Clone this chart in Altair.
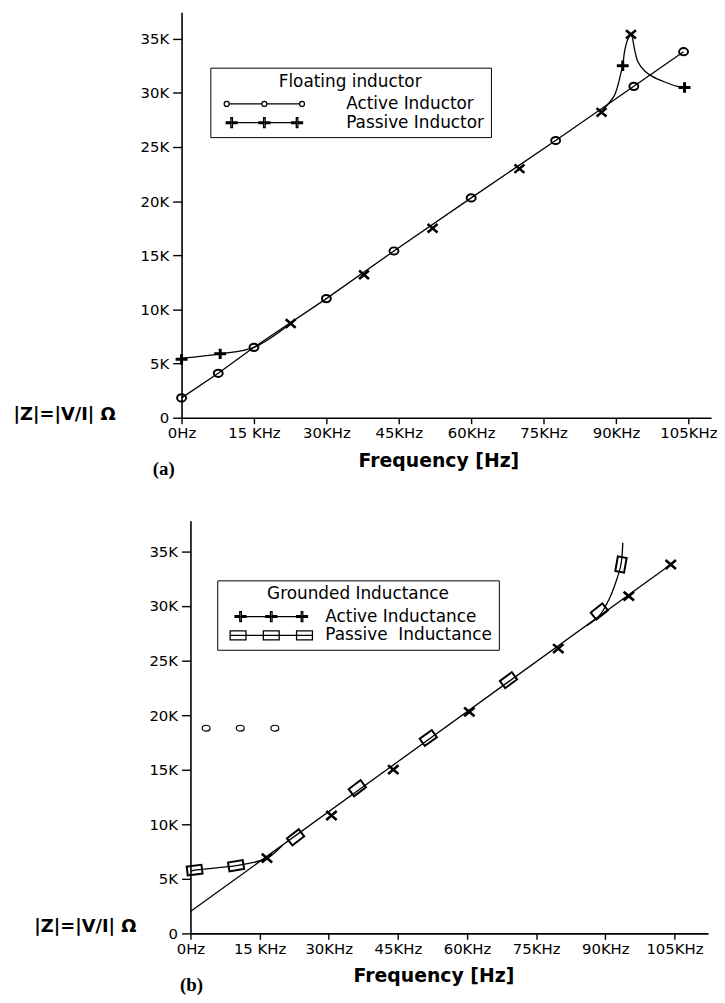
import math
import altair as alt
import pandas as pd

# ---------------- data (frequency in KHz, |Z| in ohm) ----------------
# (a) Floating inductor
a_active_f = [0, 7.6, 15, 30, 44, 60, 77.5, 93.7, 104]
a_active_z = [1830, 4100, 6500, 11000, 15400, 20300, 25600, 30600, 33800]
a_plus_f = [0, 8, 91.4, 104.2]
a_plus_z = [5400, 5900, 32500, 30500]
a_cross_f = [22.6, 37.8, 52, 70, 87, 93.1]
a_cross_z = [8700, 13200, 17500, 23000, 28200, 35400]
# passive curve where it leaves the straight line (low and high ends)
a_curve_lo_f = [0, 8, 15, 22.6]
a_curve_lo_z = [5500, 5900, 6500, 8700]
a_curve_hi_f = [87, 89.6, 90.4, 91.0, 91.4, 91.8, 92.5, 93.1, 93.9, 94.5,
                96.0, 97.6, 100.1, 102.7, 104.2]
a_curve_hi_z = [28300, 29700, 30700, 31800, 32500, 33900, 35000, 35400,
                33900, 32900, 32000, 31500, 31000, 30600, 30500]

# (b) Grounded inductance
b_line_f = [0, 104.2]
b_line_z = [2000, 33800]
b_cross_f = [16.6, 30.6, 44, 60.5, 79.8, 95.1, 104.2]
b_cross_z = [6900, 10800, 15000, 20300, 26100, 30900, 33800]
b_square_f = [0.9, 9.9, 22.8, 36.2, 51.6, 69, 88.7, 93.4]
b_square_z = [5800, 6200, 8800, 13300, 17900, 23200, 29500, 33800]
b_curve_f = [0, 0.9, 9.9, 16.6, 22.8, 36.2, 51.6, 69, 88.7, 90.8, 92.3, 93.4, 93.8]
b_curve_z = [5700, 5800, 6200, 6900, 8800, 13300, 17900, 23200, 29500, 30600,
             32200, 33800, 35800]
b_curve_lo_f = [0, 0.9, 9.9, 16.6, 20]
b_curve_lo_z = [5700, 5800, 6200, 6900, 8100]
b_curve_hi_f = [86, 88.7, 90.8, 92.3, 93.4, 93.8]
b_curve_hi_z = [28200, 29100, 30600, 32200, 33800, 35800]
b_dot_f = [3.4, 10.8, 18.3]
b_dot_z = [18800, 18800, 18800]

# ticks / texts
x_ticks = [0, 15, 30, 45, 60, 75, 90, 105]
x_tick_labels = ["0Hz", "15 KHz", "30KHz", "45KHz", "60KHz", "75KHz", "90KHz", "105KHz"]
y_ticks = [0, 5000, 10000, 15000, 20000, 25000, 30000, 35000]
y_tick_labels = ["0", "5K", "10K", "15K", "20K", "25K", "30K", "35K"]
legend_a_title = "Floating inductor"
legend_a_names = ["Active Inductor", "Passive Inductor"]
legend_b_title = "Grounded Inductance"
legend_b_names = ["Active Inductance", "Passive\u00a0 Inductance"]
panel_tags = ["(a)", "(b)"]
x_title = "Frequency [Hz]"
y_title = "|Z|=|V/I| \u03a9"

# ---------------- layout ----------------
FONT = "DejaVu Sans"
WA, HA = 534, 409
WB, HB = 522, 416
XA_MAX, YA_MAX = 109.7, 37450
XB_MAX, YB_MAX = 112.3, 37800

XLABEL_EXPR = "[" + ",".join("'%s'" % s for s in x_tick_labels) + "][round(datum.value / 15)]"
YLABEL_EXPR = "[" + ",".join("'%s'" % s for s in y_tick_labels) + "][round(datum.value / 5000)]"


def ellipse(cx, rx, ry, cy=0.0):
    return (f"M{cx - rx},{cy}A{rx},{ry} 0 1,0 {cx + rx},{cy}"
            f"A{rx},{ry} 0 1,0 {cx - rx},{cy}")


def plus_outline(cx, a, b, t):
    return (f"M{cx - a},{-t}H{cx - t}V{-b}H{cx + t}V{-t}H{cx + a}V{t}"
            f"H{cx + t}V{b}H{cx - t}V{t}H{cx - a}Z")


def rect(cx, hw, hh):
    return f"M{cx - hw},{-hh}H{cx + hw}V{hh}H{cx - hw}Z"


# data-marker symbols
SYM_CIRCLE = ellipse(0, 1, 0.8)
SYM_X = "M-1,-0.85L1,0.85M-1,0.85L1,-0.85"
SYM_PLUS = "M-1.2,0H1.2M0,-1.05V1.05"
SYM_RECT = "M-1,-0.6H1V0.6H-1Z"
SYM_DOT = ellipse(0, 1, 0.75)

# legend symbols (unit = 5px for symbolSize 100)
LEG_A_O = (ellipse(-7.6, 0.5, 0.5) + ellipse(0, 0.5, 0.5) + ellipse(7.6, 0.5, 0.5)
           + "M-7.1,0L-0.5,0M0.5,0L7.1,0")
LEG_A_P = (plus_outline(-6.6, 1.1, 1.0, 0.16) + plus_outline(0, 1.1, 1.0, 0.16)
           + plus_outline(6.6, 1.1, 1.0, 0.16) + "M-7.7,0L7.7,0")
LEG_B_P = (plus_outline(-6.2, 1.1, 1.0, 0.16) + plus_outline(0, 1.1, 1.0, 0.16)
           + plus_outline(6.2, 1.1, 1.0, 0.16) + "M-7.3,0L7.3,0")
LEG_B_S = (rect(-6.7, 1.6, 0.9) + rect(0, 1.6, 0.9) + rect(6.7, 1.6, 0.9)
           + "M-8.3,0L8.3,0")


def frame(f, z, **extra):
    d = pd.DataFrame({"f": f, "z": z})
    for k, v in extra.items():
        d[k] = v
    return d


def x_enc(xmax, title_x):
    return alt.X("f:Q", scale=alt.Scale(domain=[0, xmax], nice=False, zero=False),
                 axis=alt.Axis(values=x_ticks, labelExpr=XLABEL_EXPR, title=x_title,
                               titleX=title_x, titleY=43, titleAlign="center",
                               titleBaseline="middle", titleFontSize=19,
                               tickSize=6, labelPadding=2, labelFlush=False))


def y_enc(ymax, title_x, title_y):
    return alt.Y("z:Q", scale=alt.Scale(domain=[0, ymax], nice=False, zero=False),
                 axis=alt.Axis(values=y_ticks, labelExpr=YLABEL_EXPR, title=y_title,
                               titleAngle=0, titleAlign="left", titleBaseline="middle",
                               titleX=title_x, titleY=title_y, titleFontSize=18,
                               tickSize=9, labelPadding=4))


def line(d, x, y, interp="linear"):
    return alt.Chart(d).mark_line(color="black", strokeWidth=1.3,
                                  interpolate=interp).encode(x=x, y=y)


def markers(d, x, y, shape, size, sw, angle=None):
    enc = dict(x=x, y=y)
    if angle is not None:
        enc["angle"] = alt.Angle(angle, scale=None)
    return alt.Chart(d).mark_point(shape=shape, size=size, filled=False,
                                   color="black", strokeWidth=sw,
                                   opacity=1).encode(**enc)


def legend_layer(names, paths, title, lx, ly, sym_off, lab_off, pad):
    return alt.Chart(pd.DataFrame({"series": names})).mark_point(
        filled=False, opacity=0, color="black", size=10
    ).encode(
        shape=alt.Shape("series:N", scale=alt.Scale(domain=names, range=paths),
                        legend=alt.Legend(
                            orient="none", legendX=lx, legendY=ly, title=title,
                            titleAnchor="middle", titleAlign="center",
                            titleFont=FONT, titleFontSize=17, titleFontWeight="normal",
                            titleColor="black", titlePadding=5, titleLimit=400,
                            labelFont=FONT, labelFontSize=17, labelColor="black",
                            labelLimit=400, labelOffset=lab_off,
                            symbolSize=100, symbolOffset=sym_off,
                            symbolStrokeWidth=1.3, symbolStrokeColor="black",
                            symbolFillColor="transparent", symbolOpacity=1,
                            strokeColor="black", fillColor="white",
                            padding=pad, rowPadding=1))
    )


def tag(text, x, y):
    return alt.Chart(pd.DataFrame({"t": [text]})).mark_text(
        font="Liberation Serif", fontWeight="bold", fontSize=19, color="black",
        baseline="middle", align="center"
    ).encode(text="t:N", x=alt.value(x), y=alt.value(y))


# ---------------- panel (a) ----------------
xa = x_enc(XA_MAX, 259)
ya = y_enc(YA_MAX, -170, HA - 3)
chart_a = alt.layer(
    line(frame(a_active_f, a_active_z), xa, ya),
    line(frame(a_curve_lo_f, a_curve_lo_z), xa, ya, "catmull-rom"),
    line(frame(a_curve_hi_f, a_curve_hi_z), xa, ya, "catmull-rom"),
    markers(frame(a_active_f, a_active_z), xa, ya, SYM_CIRCLE, 81, 2),
    markers(frame(a_plus_f, a_plus_z), xa, ya, SYM_PLUS, 100, 3),
    markers(frame(a_cross_f, a_cross_z), xa, ya, SYM_X, 100, 2.6),
    legend_layer(legend_a_names, [LEG_A_O, LEG_A_P], legend_a_title, 29, 56, 40, 74, 6),
    tag(panel_tags[0], -18, HA + 52),
).properties(width=WA, height=HA)

# ---------------- panel (b) ----------------
px_f = WB / XB_MAX
px_z = HB / YB_MAX
angles = []
for sf in b_square_f:
    i = b_curve_f.index(sf)
    j0, j1 = max(i - 1, 0), min(i + 1, len(b_curve_f) - 1)
    dx = (b_curve_f[j1] - b_curve_f[j0]) * px_f
    dy = (b_curve_z[j1] - b_curve_z[j0]) * px_z
    angles.append((-math.degrees(math.atan2(dy, dx))) % 360)

xb = x_enc(XB_MAX, 245)
yb = y_enc(YB_MAX, -158, HB - 7)
chart_b = alt.layer(
    line(frame(b_line_f, b_line_z), xb, yb),
    line(frame(b_curve_lo_f, b_curve_lo_z), xb, yb, "catmull-rom"),
    line(frame(b_curve_hi_f, b_curve_hi_z), xb, yb, "catmull-rom"),
    markers(frame(b_square_f, b_square_z, ang=angles), xb, yb, SYM_RECT, 225, 2, "ang:Q"),
    markers(frame(b_cross_f, b_cross_z), xb, yb, SYM_X, 110, 2.6),
    markers(frame(b_dot_f, b_dot_z), xb, yb, SYM_DOT, 64, 1.2),
    legend_layer(legend_b_names, [LEG_B_P, LEG_B_S], legend_b_title, 27, 60, 40, 46, 6),
    tag(panel_tags[1], 1, HB + 52),
).properties(width=WB, height=HB)

chart = alt.vconcat(chart_a, chart_b, spacing=42, center=True).resolve_scale(
    shape="independent"
).resolve_legend(shape="independent").properties(
    padding={"left": 5, "top": 0, "right": 0, "bottom": 0}
).configure_axis(
    domainColor="black", domainWidth=1.6, tickColor="black", tickWidth=1.4,
    labelColor="black", labelFont=FONT, labelFontSize=15,
    titleFont=FONT, titleFontWeight="bold", titleColor="black", grid=False
).configure_view(stroke=None)

chart.save("out.html", embed_options={"renderer": "svg", "actions": False})
